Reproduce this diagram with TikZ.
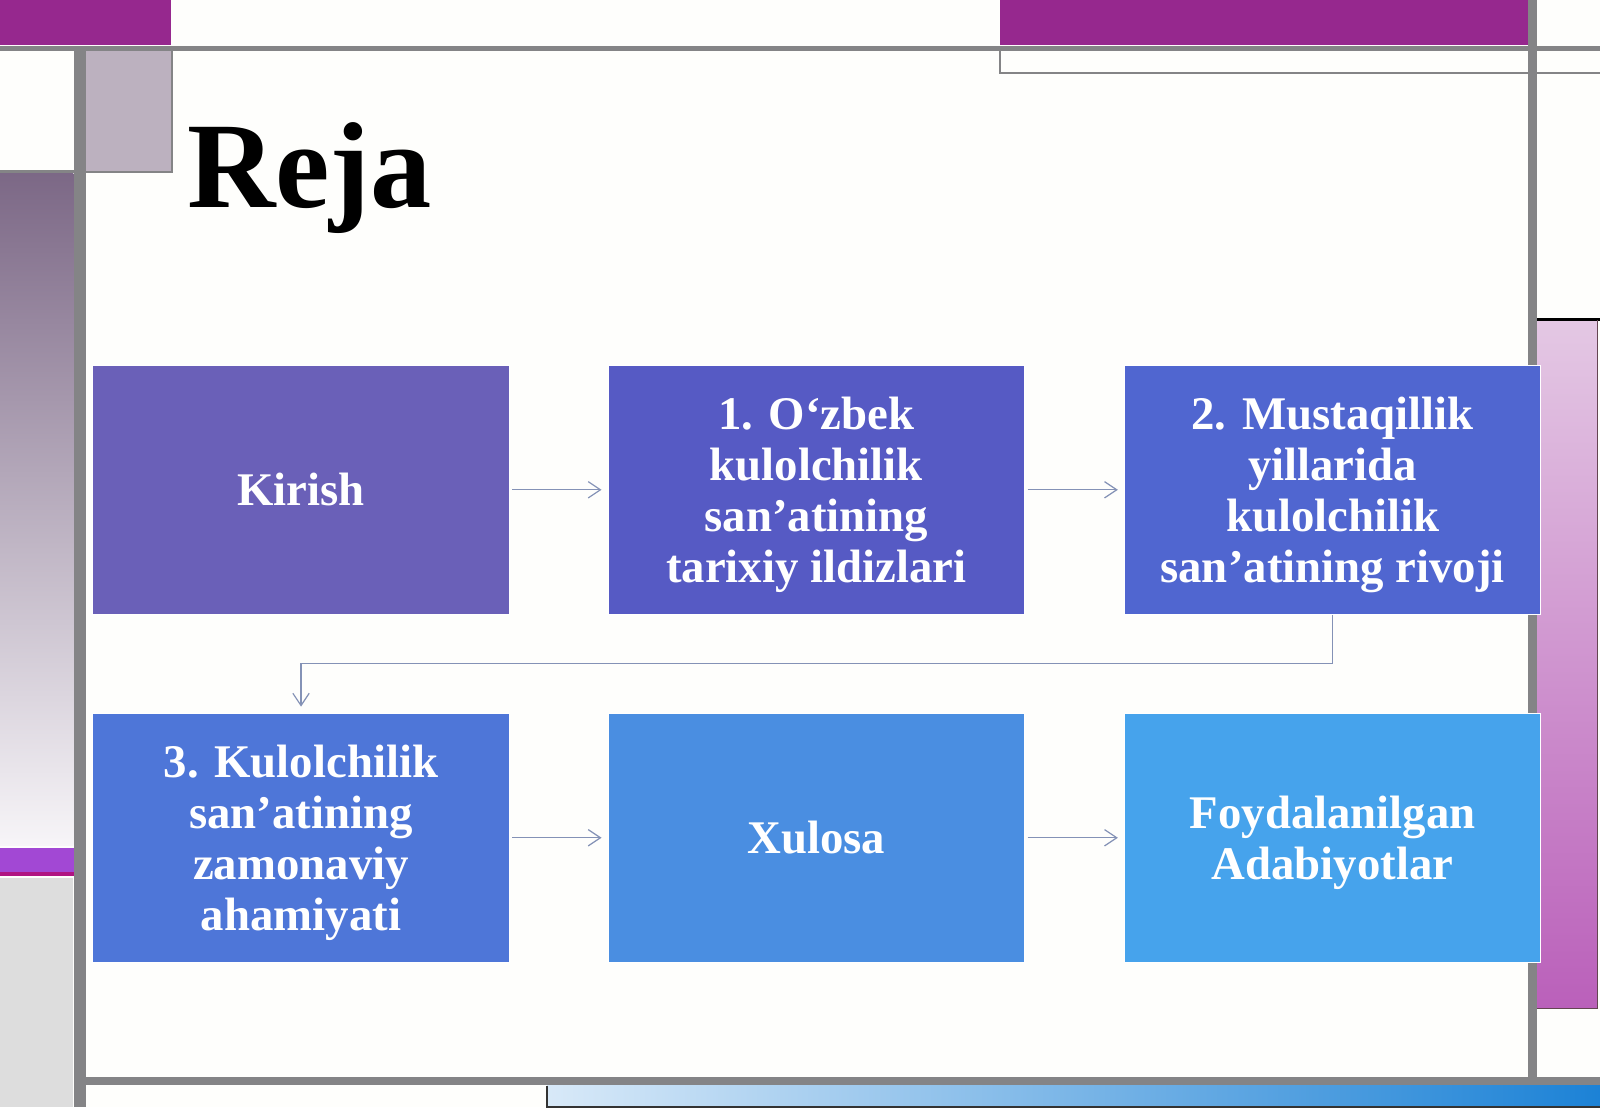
\documentclass[tikz,border=0pt]{standalone}
\usepackage{fontspec}
\setmainfont{Liberation Serif}
\usetikzlibrary{arrows.meta}

\definecolor{pagewhite}{RGB}{254,254,252}
\definecolor{framemag}{RGB}{150,40,142}
\definecolor{framegrey}{RGB}{132,132,134}
\definecolor{mauvebox}{RGB}{188,177,191}
\definecolor{stripdark}{RGB}{124,104,134}
\definecolor{striplight}{RGB}{247,245,248}
\definecolor{violetbar}{RGB}{162,72,212}
\definecolor{magline}{RGB}{176,20,130}
\definecolor{lightgrey}{RGB}{221,221,221}
\definecolor{pinklight}{RGB}{228,200,228}
\definecolor{pinkdark}{RGB}{186,96,186}
\definecolor{bluelight}{RGB}{216,233,248}
\definecolor{bluedark}{RGB}{28,130,214}
\definecolor{linkgrey}{RGB}{132,146,182}
\definecolor{cardA}{RGB}{106,96,184}
\definecolor{cardB}{RGB}{86,90,196}
\definecolor{cardC}{RGB}{80,102,208}
\definecolor{cardD}{RGB}{78,118,216}
\definecolor{cardE}{RGB}{74,142,225}
\definecolor{cardF}{RGB}{70,163,236}

\newcommand{\toproom}{\rule{0pt}{31.5pt}}

\tikzset{
  card/.style={draw=white, line width=0.75pt, minimum width=306pt, minimum height=183pt,
    inner sep=0pt, align=center, text=white, font=\bfseries\fontsize{34.4}{37.5}\selectfont},
  link/.style={draw=linkgrey, line width=0.9pt, -{Straight Barb[length=9pt,width=12pt]},
    shorten <=2pt, shorten >=4.5pt},
}

\begin{document}
\begin{tikzpicture}[x=0.75pt,y=0.75pt,yscale=-1,xscale=1]
\useasboundingbox (0,0) rectangle (1568,1085);

%Background
\fill [pagewhite] (0,0) rectangle (1568,1085);

%Top bars
\fill [framemag] (0,0) rectangle (168,44);
\fill [framemag] (980,0) rectangle (1497,44);
\draw [framegrey, line width=1.5pt] (980,47) -- (980,72) -- (1568,72);

%Left side
\fill [mauvebox] (84,50) rectangle (169,169);
\draw [framegrey, line width=1.5pt] (169,50) -- (169,169) -- (84,169);
\draw [framegrey, line width=2pt] (0,168) -- (73,168);
\shade [top color=stripdark, bottom color=striplight] (0,170) rectangle (72,829);
\fill [violetbar] (0,831) rectangle (78,855);
\fill [magline] (0,855) rectangle (78,858);
\fill [lightgrey] (0,860) rectangle (72,1085);

%Right side
\shade [top color=pinklight, bottom color=pinkdark] (1506,313) rectangle (1566,988);
\draw [black, line width=2pt] (1506,313) -- (1568,313);
\draw [black!70!magenta, line width=0.75pt] (1566,314) -- (1566,988) -- (1506,988);

%Bottom bar
\shade [left color=bluelight, right color=bluedark] (536,1064) rectangle (1568,1085);
\draw [black!80, line width=1pt] (536,1064) -- (536,1085) -- (1568,1085);

%Grey frame lines
\fill [framegrey] (0,45) rectangle (1568,50);
\fill [framegrey] (73,45) rectangle (84,1085);
\fill [framegrey] (1497,0) rectangle (1506,1062);
\fill [framegrey] (84,1055) rectangle (1568,1063);

% Title
\node [anchor=base west, inner sep=0pt, font=\bfseries\fontsize{90}{100}\selectfont] (title) at (183,203) {Reja};

% Cards
\node [card, fill=cardA] (kirish) at (295,480) {Kirish};
\node [card, fill=cardB] (ildiz) at (800,480) {\toproom 1. O‘zbek\\kulolchilik\\san’atining\\tarixiy ildizlari};
\node [card, fill=cardC] (rivoj) at (1306,480) {\toproom 2. Mustaqillik\\yillarida\\kulolchilik\\san’atining rivoji};
\node [card, fill=cardD] (ahamiyat) at (295,821) {\toproom 3. Kulolchilik\\san’atining\\zamonaviy\\ahamiyati};
\node [card, fill=cardE] (xulosa) at (800,821) {Xulosa};
\node [card, fill=cardF] (adabiyot) at (1306,821) {\toproom Foydalanilgan\\Adabiyotlar};

% Links
\coordinate (bend) at (800,650);
\draw [link] (kirish) -- (ildiz);
\draw [link] (ildiz) -- (rivoj);
\draw [link, shorten <=0pt] (rivoj.south) |- (bend) -| (ahamiyat.north);
\draw [link] (ahamiyat) -- (xulosa);
\draw [link] (xulosa) -- (adabiyot);
\end{tikzpicture}
\end{document}
